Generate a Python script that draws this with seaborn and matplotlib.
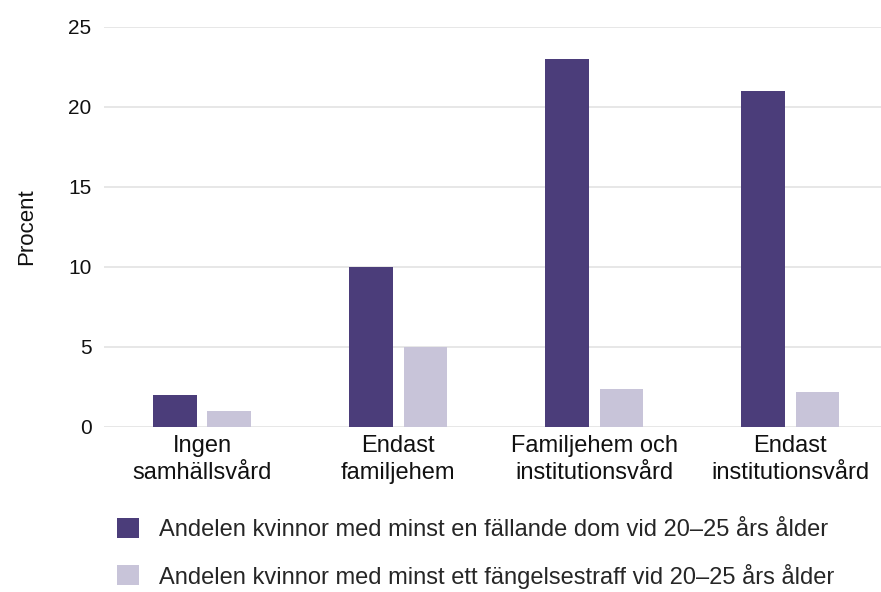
import numpy as np
import pandas as pd
import matplotlib
matplotlib.use("Agg")
import matplotlib.pyplot as plt
import seaborn as sns

categories = [
    "Ingen\nsamhällsvård",
    "Endast\nfamiljehem",
    "Familjehem och\ninstitutionsvård",
    "Endast\ninstitutionsvård",
]
series_names = [
    "Andelen kvinnor med minst en fällande dom vid 20–25 års ålder",
    "Andelen kvinnor med minst ett fängelsestraff vid 20–25 års ålder",
]
dom_values = [2.0, 10.0, 23.0, 21.0]
fangelse_values = [1.0, 5.0, 2.4, 2.2]
y_ticks = [0, 5, 10, 15, 20, 25]

colors = ["#4b3d7a", "#c8c4d9"]

df = pd.DataFrame({
    "kategori": categories * 2,
    "serie": [series_names[0]] * 4 + [series_names[1]] * 4,
    "procent": dom_values + fangelse_values,
})

sns.set_style("white")
plt.rcParams["font.family"] = ["Liberation Sans", "DejaVu Sans"]

fig = plt.figure(figsize=(8.81, 5.92), dpi=100)
ax = fig.add_axes([104 / 881, 1 - 427 / 592, 1 - 104 / 881, 400 / 592])

sns.barplot(
    data=df, x="kategori", y="procent", hue="serie",
    palette=colors, width=0.56, gap=0.2, saturation=1,
    order=categories, hue_order=series_names, ax=ax,
    linewidth=0,
)

ax.set_xlim(-0.5, 3.464)
ax.set_ylim(0, 25)
ax.set_yticks(y_ticks)
ax.yaxis.grid(True, color="#e3e3e3", linewidth=1.2)
ax.set_axisbelow(True)
for s in ax.spines.values():
    s.set_visible(False)
ax.tick_params(axis="both", length=0, colors="#111111")
ax.tick_params(axis="y", pad=9, labelsize=15)
ax.tick_params(axis="x", pad=6, labelsize=17)
for lbl in ax.get_xticklabels():
    lbl.set_linespacing(1.3)
ax.set_xlabel("")
ax.set_ylabel("Procent", fontsize=16, labelpad=22, color="#111111")

handles, labels = ax.get_legend_handles_labels()
ax.get_legend().remove()
fig.legend(
    handles, labels, loc="upper left", bbox_to_anchor=(117 / 881, 1 - 518 / 592),
    frameon=False, fontsize=17, handlelength=0.93, handleheight=0.93,
    handletextpad=0.85, labelspacing=0.95, borderaxespad=0, borderpad=0,
)

fig.savefig("out.png", dpi=100)
